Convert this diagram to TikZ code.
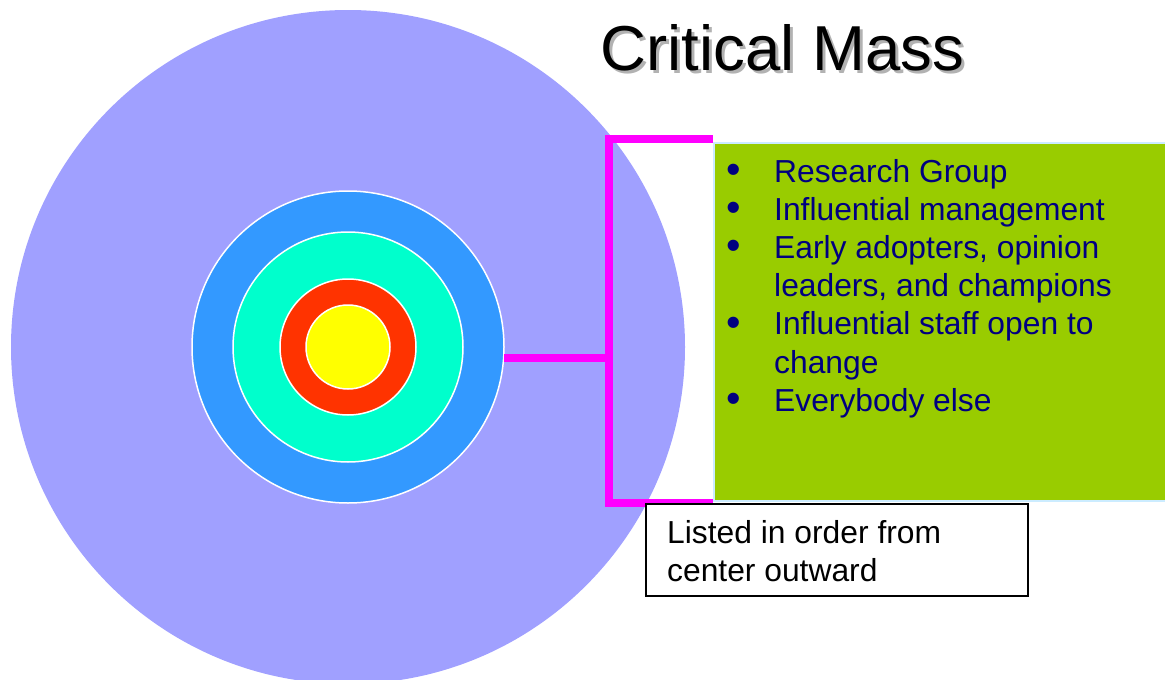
\documentclass[tikz,border=0pt]{standalone}
\usepackage{fontspec}
\setmainfont{Liberation Sans}
\usepackage{tikz}
\usetikzlibrary{positioning,calc}
\definecolor{cmlav}{HTML}{A0A0FF}
\definecolor{cmblue}{HTML}{3399FF}
\definecolor{cmcyan}{HTML}{00FFCC}
\definecolor{cmred}{HTML}{FF3300}
\definecolor{cmyellow}{HTML}{FFFF00}
\definecolor{cmpink}{HTML}{FF00FF}
\definecolor{cmgreen}{HTML}{99CC00}
\definecolor{cmnavy}{HTML}{000080}
\definecolor{cmedge}{HTML}{CCECFF}
\tikzset{
  ring/.style    ={circle, inner sep=0pt, draw=white, line width=1.5pt},
  bracket/.style ={draw=cmpink, line width=8pt},
  listbox/.style ={rectangle, inner sep=0pt, fill=cmgreen, draw=cmedge,
                   line width=1.5pt, minimum width=452pt, minimum height=358pt},
  notebox/.style ={rectangle, inner sep=0pt, fill=white, draw=black,
                   line width=2pt, minimum width=382pt, minimum height=92pt},
  bigtxt/.style  ={inner sep=0pt, font=\fontsize{31.8}{38.2}\selectfont}
}
\newcommand{\blt}{\makebox[61pt][l]{\hspace*{13pt}\raisebox{-1.5pt}{\scalebox{1.3}{\textbullet}}}}
\newcommand{\shadowed}[1]{\rlap{\hspace*{3pt}\raisebox{-3pt}{\textcolor{gray!60}{#1}}}#1}

\begin{document}
\begin{tikzpicture}[x=1pt,y=-1pt]
\useasboundingbox (0,0) rectangle (1165,680);
\clip (0,0) rectangle (1165,680);

% target rings, outside in
\node[circle, inner sep=0pt, fill=cmlav, minimum size=674pt] (mass) at (348,347) {};
\node[ring, fill=cmblue,   minimum size=312pt] (blue)   at (mass) {};
\node[ring, fill=cmcyan,   minimum size=230pt] (cyan)   at (mass) {};
\node[ring, fill=cmred,    minimum size=136pt] (red)    at (mass) {};
\node[ring, fill=cmyellow, minimum size=84pt]  (yellow) at (mass) {};

% list of groups
\node[listbox, anchor=north west] (list) at (713,142) {};
\node[bigtxt, anchor=base west, text=cmnavy] (items) at (713,182) {%
  \begin{tabular}[t]{@{}l@{}}
  \blt Research Group\\
  \blt Influential management\\
  \blt Early adopters, opinion\\
  \hspace*{61pt}leaders, and champions\\
  \blt Influential staff open to\\
  \hspace*{61pt}change\\
  \blt Everybody else
  \end{tabular}};

% bracket from the rings to the list
\coordinate (btop) at (609,139);
\coordinate (bbot) at (609,503);
\draw[bracket] (btop -| list.west) -- (btop) -- (bbot) -- (bbot -| list.west);
\draw[bracket] (blue.-4.4) -- (blue.-4.4 -| btop);

% note
\node[notebox, anchor=north west] (note) at (645,503) {};
\node[bigtxt, anchor=base west] (notetxt) at (667,543) {%
  \begin{tabular}[t]{@{}l@{}}
  Listed in order from\\
  center outward
  \end{tabular}};

% title
\node[font=\fontsize{63.5}{70}\selectfont, anchor=base west] (title) at (597,70) {\shadowed{Critical Mass}};
\end{tikzpicture}
\end{document}
